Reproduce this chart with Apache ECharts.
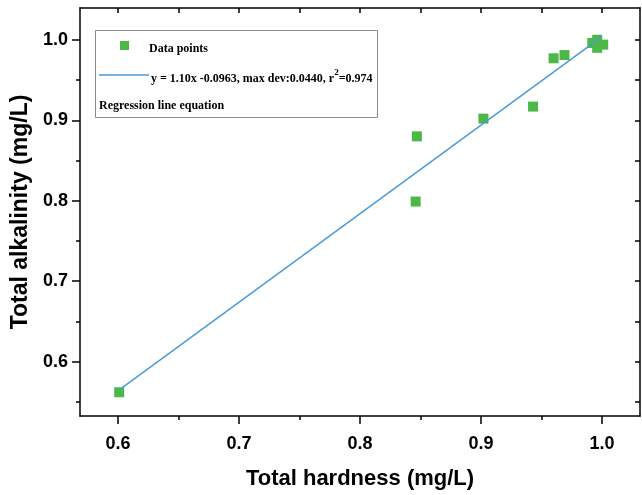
<!DOCTYPE html>
<html lang="en">
<head>
    <meta charset="utf-8">
    <title>hardness-alkalinity</title>
    <script src="https://cdn.jsdelivr.net/npm/echarts@6/dist/echarts.min.js"></script>
    <style>
        html, body { margin: 0; padding: 0; background: #fff; }
        #container { width: 642px; height: 495px; }
    </style>
</head>
<body>
<div id="container"></div>
<script>
    // measured points
    const hardness = [0.601, 0.847, 0.846, 0.902, 0.943, 0.960, 0.969, 0.992, 0.996, 0.996, 1.001];
    const alkalinity = [0.562, 0.880, 0.799, 0.902, 0.917, 0.977, 0.981, 0.996, 1.000, 0.990, 0.994];

    // regression line end points
    const fitX = [0.601, 1.0];
    const fitY = [0.565, 1.004];

    const xMajor = [0.6, 0.7, 0.8, 0.9, 1.0];
    const xMinor = [0.65, 0.75, 0.85, 0.95];
    const yMajor = [0.6, 0.7, 0.8, 0.9, 1.0];
    const yMinor = [0.55, 0.65, 0.75, 0.85, 0.95];

    const X_MIN = 0.5686, X_MAX = 1.0314;
    const Y_MIN = 0.5325, Y_MAX = 1.0395;

    const GREEN = "#4DB848";
    const BLUE = "#4A9BDA";
    const sans = "Liberation Sans";
    const serif = "Liberation Serif";

    const axisLine = {show: true, lineStyle: {color: "#000", width: 1.5}};
    const labelStyle = {fontFamily: sans, fontWeight: "bold", fontSize: 18, color: "#000"};

    function baseAxis(extra) {
        return Object.assign({
            type: "value",
            scale: true,
            splitLine: {show: false},
            axisLine: axisLine
        }, extra);
    }

    const xAxes = [
        baseAxis({
            position: "bottom", min: X_MIN, max: X_MAX,
            name: "Total hardness (mg/L)", nameLocation: "middle", nameGap: 52,
            nameTextStyle: {fontFamily: sans, fontWeight: "bold", fontSize: 22, color: "#000"},
            axisTick: {show: true, inside: false, length: 8, customValues: xMajor, lineStyle: {color: "#000", width: 1.5}},
            axisLabel: Object.assign({show: true, margin: 19, customValues: xMajor, formatter: v => v.toFixed(1)}, labelStyle)
        }),
        baseAxis({
            position: "bottom", min: X_MIN, max: X_MAX, axisLine: {show: false},
            axisTick: {show: true, inside: false, length: 4, customValues: xMinor, lineStyle: {color: "#000", width: 1.5}},
            axisLabel: {show: false}
        }),
        baseAxis({
            position: "top", min: X_MIN, max: X_MAX,
            axisTick: {show: true, inside: true, length: 5, customValues: xMajor.concat(xMinor), lineStyle: {color: "#000", width: 1.5}},
            axisLabel: {show: false}
        })
    ];

    const yAxes = [
        baseAxis({
            position: "left", min: Y_MIN, max: Y_MAX,
            name: "Total alkalinity (mg/L)", nameLocation: "middle", nameGap: 42, nameRotate: 90,
            nameTextStyle: {fontFamily: sans, fontWeight: "bold", fontSize: 23, color: "#000"},
            axisTick: {show: true, inside: false, length: 8, customValues: yMajor, lineStyle: {color: "#000", width: 1.5}},
            axisLabel: Object.assign({show: true, margin: 12, customValues: yMajor, formatter: v => v.toFixed(1)}, labelStyle)
        }),
        baseAxis({
            position: "left", min: Y_MIN, max: Y_MAX, axisLine: {show: false},
            axisTick: {show: true, inside: false, length: 4, customValues: yMinor, lineStyle: {color: "#000", width: 1.5}},
            axisLabel: {show: false}
        }),
        baseAxis({
            position: "right", min: Y_MIN, max: Y_MAX,
            axisTick: {show: true, inside: true, length: 5, customValues: yMajor.concat(yMinor), lineStyle: {color: "#000", width: 1.5}},
            axisLabel: {show: false}
        })
    ];

    const points = hardness.map((x, i) => [x, alkalinity[i]]);
    const fitLine = fitX.map((x, i) => [x, fitY[i]]);

    const option = {
        animation: false,
        grid: {left: 80, right: 2, top: 8, bottom: 76, containLabel: false},
        xAxis: xAxes,
        yAxis: yAxes,
        series: [
            {
                name: "Data points",
                type: "scatter",
                symbol: "rect",
                symbolSize: 10,
                itemStyle: {color: GREEN, opacity: 1},
                data: points,
                z: 2
            },
            {
                name: "Regression line equation",
                type: "line",
                showSymbol: false,
                lineStyle: {color: BLUE, width: 1.5},
                data: fitLine,
                z: 3
            }
        ],
        graphic: [
            {type: "rect", shape: {x: 95.5, y: 30.5, width: 282, height: 87},
                style: {fill: "#fff", stroke: "#8a8a8a", lineWidth: 1}, z: 10},
            {type: "rect", shape: {x: 120, y: 41, width: 9, height: 9},
                style: {fill: GREEN}, z: 11},
            {type: "line", shape: {x1: 99, y1: 75, x2: 149, y2: 75},
                style: {stroke: BLUE, lineWidth: 1.5}, z: 11},
            {type: "text", left: 149, top: 43, z: 11,
                style: {text: "Data points", font: "bold 12px " + serif, fill: "#000"}},
            {type: "text", left: 151, top: 68, z: 11,
                style: {
                    text: "y = 1.10x -0.0963, max dev:0.0440, r{sup|2}=0.974",
                    font: "bold 12px " + serif, fill: "#000",
                    rich: {sup: {font: "bold 9px " + serif, fill: "#000", verticalAlign: "top", padding: [0, 0, 12, 0]}}
                }},
            {type: "text", left: 99, top: 100, z: 11,
                style: {text: "Regression line equation", font: "bold 12px " + serif, fill: "#000"}}
        ]
    };

    let chart = echarts.init(document.getElementById("container"));
    chart.setOption(option);
</script>
</body>
</html>
